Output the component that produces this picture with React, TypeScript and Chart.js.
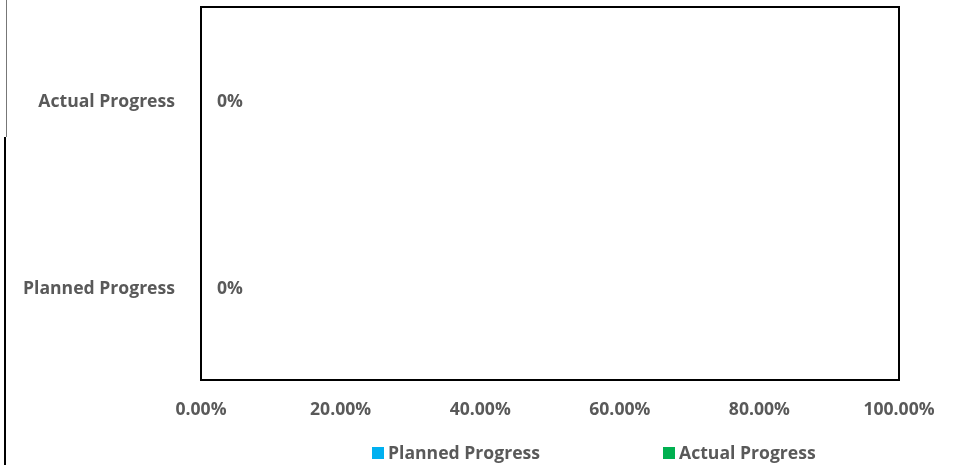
import React, { useEffect, useRef } from "react";
import { Chart, registerables } from "chart.js";

Chart.register(...registerables);

const categories = ["Actual Progress", "Planned Progress"];
const plannedValues = [null, 0];
const actualValues = [0, null];
const xTicks = [0, 0.2, 0.4, 0.6, 0.8, 1.0];

const FONT = "'Open Sans', sans-serif";
const FS = 17.6;
const GRAY = "#595959";
const BLUE = "#00B0F0";
const GREEN = "#00B050";

const framePlugin = {
  id: "frame",
  afterDraw(chart: any) {
    const { ctx, chartArea } = chart;
    ctx.save();
    // page edge lines
    ctx.strokeStyle = "#777";
    ctx.lineWidth = 1;
    ctx.beginPath();
    ctx.moveTo(6.5, 0);
    ctx.lineTo(6.5, 137);
    ctx.stroke();
    ctx.strokeStyle = "#000";
    ctx.lineWidth = 2;
    ctx.beginPath();
    ctx.moveTo(5, 137);
    ctx.lineTo(5, chart.height);
    ctx.stroke();
    // plot box
    ctx.strokeStyle = "#000";
    ctx.lineWidth = 2;
    ctx.strokeRect(chartArea.left, chartArea.top, chartArea.right - chartArea.left, chartArea.bottom - chartArea.top);
    // data labels
    ctx.fillStyle = GRAY;
    ctx.font = `bold ${FS}px ${FONT}`;
    ctx.textAlign = "left";
    ctx.textBaseline = "middle";
    chart.data.datasets.forEach((ds: any, i: number) => {
      const meta = chart.getDatasetMeta(i);
      meta.data.forEach((bar: any, j: number) => {
        const v = ds.data[j];
        if (v === null || v === undefined) return;
        ctx.fillText(`${Math.round(v * 100)}%`, bar.x + 16, bar.y + 2);
      });
    });
    // legend
    const legendY = 454;
    const starts = [372, 663];
    chart.data.datasets.forEach((ds: any, i: number) => {
      const x = starts[i];
      ctx.fillStyle = ds.backgroundColor;
      ctx.fillRect(x, legendY - 7, 12, 12);
      ctx.fillStyle = GRAY;
      ctx.textAlign = "left";
      ctx.fillText(ds.label, x + 16, legendY);
    });
    ctx.restore();
  },
};

export default function App() {
  const ref = useRef<HTMLCanvasElement>(null);
  useEffect(() => {
    document.body.style.margin = "0";
    const chart = new Chart(ref.current!, {
      type: "bar",
      data: {
        labels: categories,
        datasets: [
          { label: "Planned Progress", data: plannedValues as any, backgroundColor: BLUE, barPercentage: 0.6, categoryPercentage: 1, skipNull: true } as any,
          { label: "Actual Progress", data: actualValues as any, backgroundColor: GREEN, barPercentage: 0.6, categoryPercentage: 1, skipNull: true } as any,
        ],
      },
      options: {
        indexAxis: "y",
        animation: false,
        responsive: false,
        layout: { padding: { left: 0, right: 62, top: 7, bottom: 0 } },
        plugins: { legend: { display: false }, tooltip: { enabled: false } },
        scales: {
          x: {
            min: 0,
            max: 1,
            afterBuildTicks: (scale: any) => {
              scale.ticks = xTicks.map((v) => ({ value: v }));
            },
            afterFit: (scale: any) => {
              scale.height = 85;
              scale.paddingLeft = 0;
              scale.paddingRight = 0;
            },
            grid: { display: false, drawTicks: false },
            border: { display: false },
            ticks: {
              padding: 19,
              color: GRAY,
              font: { family: FONT, size: FS, weight: "bold" },
              callback: (v: any) => `${(Number(v) * 100).toFixed(2)}%`,
              maxRotation: 0,
            },
          },
          y: {
            afterFit: (scale: any) => {
              scale.width = 201;
              scale.paddingTop = 0;
              scale.paddingBottom = 0;
            },
            grid: { display: false, drawTicks: false },
            border: { display: false },
            ticks: {
              padding: 26,
              labelOffset: 2,
              color: GRAY,
              font: { family: FONT, size: FS, weight: "bold" },
            },
          },
        },
      } as any,
      plugins: [framePlugin],
    });
    return () => chart.destroy();
  }, []);
  return (
    <div style={{ width: 961, height: 465, background: "#fff" }}>
      <canvas ref={ref} width={961} height={465} style={{ display: "block" }} />
    </div>
  );
}
